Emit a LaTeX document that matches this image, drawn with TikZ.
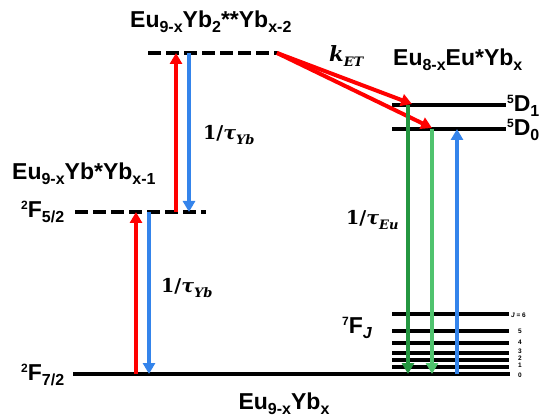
\documentclass[tikz,border=0pt]{standalone}
\usepackage{fontspec}
\setmainfont{Liberation Sans}
\newfontfamily\ratefont{DejaVu Serif}
\usetikzlibrary{arrows.meta}

\definecolor{upred}{RGB}{255,0,0}
\definecolor{downblue}{RGB}{52,132,235}
\definecolor{dkgreen}{RGB}{36,150,64}
\definecolor{ltgreen}{RGB}{80,195,110}

% lowered / raised indices in the sans labels
\newcommand{\lowtxt}[1]{\raisebox{-5pt}{\fontsize{16}{16}\selectfont #1}}
\newcommand{\hightxt}[1]{\raisebox{8pt}{\fontsize{12}{12}\selectfont #1}}
% rate symbols: upright numerals, italic symbol and index
\newcommand{\ratelow}[1]{\raisebox{-4.5pt}{\fontsize{13}{13}\selectfont\itshape #1}}
\newcommand{\ratesym}[1]{{\ratefont\bfseries 1/\textit{τ}\ratelow{#1}}}

\begin{document}
\begin{tikzpicture}[x=1pt,y=-1pt,
  level/.style={line width=4pt,black},
  dlevel/.style={level,dash pattern=on 13pt off 5pt},
  trans/.style={line width=4pt,-{Triangle[width=12pt,length=11pt]}},
  title/.style={font=\fontsize{23}{25}\selectfont\bfseries,inner sep=0pt,anchor=base west},
  rate/.style={font=\fontsize{19}{21}\selectfont,inner sep=0pt,anchor=base west},
  jlab/.style={font=\fontsize{6.5}{7}\selectfont\bfseries,inner sep=0pt,anchor=west}
]
\useasboundingbox (0,0) rectangle (543,419);

% ---------- level end points ----------
\coordinate (g0) at (73,374);   \coordinate (g1) at (510,374);
\coordinate (m0) at (75,212);   \coordinate (m1) at (206,212);
\coordinate (t0) at (148,53);   \coordinate (t1) at (278,53);
\coordinate (dA0) at (392,105); \coordinate (dA1) at (506,105);
\coordinate (dB0) at (392,129); \coordinate (dB1) at (506,129);

% ---------- Yb levels ----------
\draw[level] (g0) -- (g1);
\draw[dlevel] (m0) -- (m1);
\draw[dlevel] (t0) -- (t1);

% ---------- Eu levels ----------
\draw[level] (dA0) -- (dA1);
\draw[level] (dB0) -- (dB1);
\foreach \yy/\nm in {314/f6,331/f5,343/f4,353/f3,360/f2,367/f1}{
  \coordinate (\nm a) at (392,\yy);
  \coordinate (\nm b) at (509,\yy);
  \draw[level,line width=3.6pt] (\nm a) -- (\nm b);
}

% ---------- transition end points ----------
\coordinate (ra0) at (136,374); \coordinate (ra1) at (136,212);
\coordinate (ba0) at (149,212); \coordinate (ba1) at (149,374);
\coordinate (rb0) at (176,212); \coordinate (rb1) at (176,53);
\coordinate (bb0) at (189,53);  \coordinate (bb1) at (189,212);
\coordinate (et0) at (277,53);
\coordinate (etA) at (412,104); \coordinate (etB) at (432,128);
\coordinate (ga0) at (408,105); \coordinate (ga1) at (408,374);
\coordinate (gb0) at (432,129); \coordinate (gb1) at (432,374);
\coordinate (bc0) at (457,374); \coordinate (bc1) at (457,129);

% ---------- transitions ----------
\draw[trans,upred] (ra0) -- (ra1);
\draw[trans,downblue] (ba0) -- (ba1);
\draw[trans,upred] (rb0) -- (rb1);
\draw[trans,downblue] (bb0) -- (bb1);
\draw[trans,upred] (et0) -- (etA);
\draw[trans,upred] (et0) -- (etB);
\draw[trans,dkgreen] (ga0) -- (ga1);
\draw[trans,ltgreen] (gb0) -- (gb1);
\draw[trans,downblue] (bc0) -- (bc1);

% ---------- labels ----------
\node[title] (ttop) at (130,28) {Eu\lowtxt{9-x}Yb\lowtxt{2}**Yb\lowtxt{x-2}};
\node[title] (teu) at (393,66) {Eu\lowtxt{8-x}Eu*Yb\lowtxt{x}};
\node[title] (tmid) at (12,180) {Eu\lowtxt{9-x}Yb*Yb\lowtxt{x-1}};
\node[title,anchor=base] (tbot) at (284,409) {Eu\lowtxt{9-x}Yb\lowtxt{x}};

\node[title] (f52) at (21,218) {\hightxt{2}F\lowtxt{5/2}};
\node[title] (f72) at (21,380) {\hightxt{2}F\lowtxt{7/2}};
\node[title] (d1) at (507,112) {\hightxt{5}D\lowtxt{1}};
\node[title] (d0) at (507,136) {\hightxt{5}D\lowtxt{0}};
\node[title] (fj) at (342,334) {\hightxt{7}F\lowtxt{\itshape J}};

\node[rate] (tyb1) at (203,140) {\ratesym{Yb}};
\node[rate] (tyb2) at (161,293) {\ratesym{Yb}};
\node[rate] (teu1) at (346,225) {\ratesym{Eu}};
\node[rate] (ket) at (329,62) {{\ratefont\bfseries\itshape\fontsize{21}{23}\selectfont k\ratelow{ET}}};

\node[jlab] (j6) at (511,315) {\itshape J\upshape\ = 6};
\node[jlab] (j5) at (518,331) {5};
\node[jlab] (j4) at (518,342) {4};
\node[jlab] (j3) at (518,351) {3};
\node[jlab] (j2) at (518,358) {2};
\node[jlab] (j1) at (518,365) {1};
\node[jlab] (j0) at (518,375) {0};
\end{tikzpicture}
\end{document}
